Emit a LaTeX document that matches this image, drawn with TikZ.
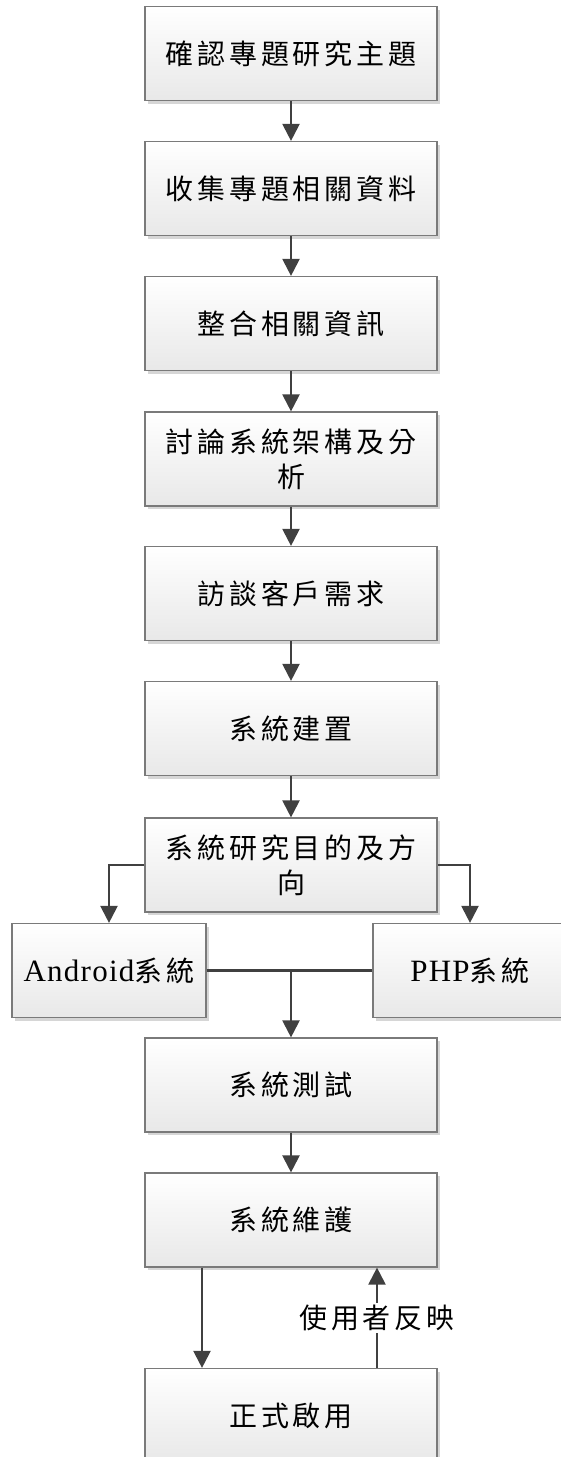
\documentclass[tikz,border=0pt]{standalone}
\usepackage{fontspec}
\setmainfont{Liberation Serif}[LetterSpace=4]
\newfontfamily\cjk{Noto Sans CJK TC}[LetterSpace=14]
\usetikzlibrary{arrows.meta,shadows}
\definecolor{linec}{HTML}{404040}
\definecolor{boxline}{HTML}{7A7A7A}
\tikzset{
  box/.style={draw=boxline, line width=1.2pt, top color=white, bottom color=black!9,
    minimum width=292pt, minimum height=94pt, align=center, inner sep=0pt,
    font=\fontsize{28}{35}\selectfont\cjk,
    general shadow={fill=black!16, shadow xshift=3pt, shadow yshift=-3pt}},
  sidebox/.style={box, minimum width=194pt},
  arr/.style={draw=linec, line width=2.2pt, -{Triangle[length=17pt,width=17pt]}},
  ln/.style={draw=linec, line width=2.2pt},
  lbl/.style={fill=white, inner sep=2pt, font=\fontsize{28}{35}\selectfont\cjk},
  lat/.style={}
}
\newcommand{\latin}[1]{{\fontsize{31}{35}\selectfont\rmfamily #1}}
\begin{document}
\begin{tikzpicture}[x=1pt,y=1pt]
\useasboundingbox[fill=white] (0,0) rectangle (560,-1457);
\node[box] (b1) at (291,-53.5) {確認專題研究主題};
\node[box] (b2) at (291,-188.5) {收集專題相關資料};
\node[box] (b3) at (291,-323.5) {整合相關資訊};
\node[box] (b4) at (291,-459) {討論系統架構及分\\析};
\node[box] (b5) at (291,-593.5) {訪談客戶需求};
\node[box] (b6) at (291,-728.5) {系統建置};
\node[box] (b7) at (291,-865) {系統研究目的及方\\向};
\node[sidebox] (and) at (109,-970.5) {\latin{Android}系統};
\node[sidebox] (php) at (470,-970.5) {\latin{PHP}系統};
\node[box] (b8) at (291,-1085) {系統測試};
\node[box] (b9) at (291,-1220) {系統維護};
\node[box] (b10) at (291,-1415.5) {正式啟用};
\coordinate (j) at (b8.north |- and.east);
\draw[arr] (b1) -- (b2);
\draw[arr] (b2) -- (b3);
\draw[arr] (b3) -- (b4);
\draw[arr] (b4) -- (b5);
\draw[arr] (b5) -- (b6);
\draw[arr] (b6) -- (b7);
\draw[arr] (b7.west) -| (and.north);
\draw[arr] (b7.east) -| (php.north);
\draw[ln] (and.east) -- (php.west);
\draw[arr] (j) -- (b8.north);
\draw[arr] (b8) -- (b9);
\draw[arr] ([xshift=-89pt]b9.south) -- ([xshift=-89pt]b10.north);
\draw[arr] ([xshift=86pt]b10.north) -- node[lbl] (fb) {使用者反映} ([xshift=86pt]b9.south);
\end{tikzpicture}
\end{document}
